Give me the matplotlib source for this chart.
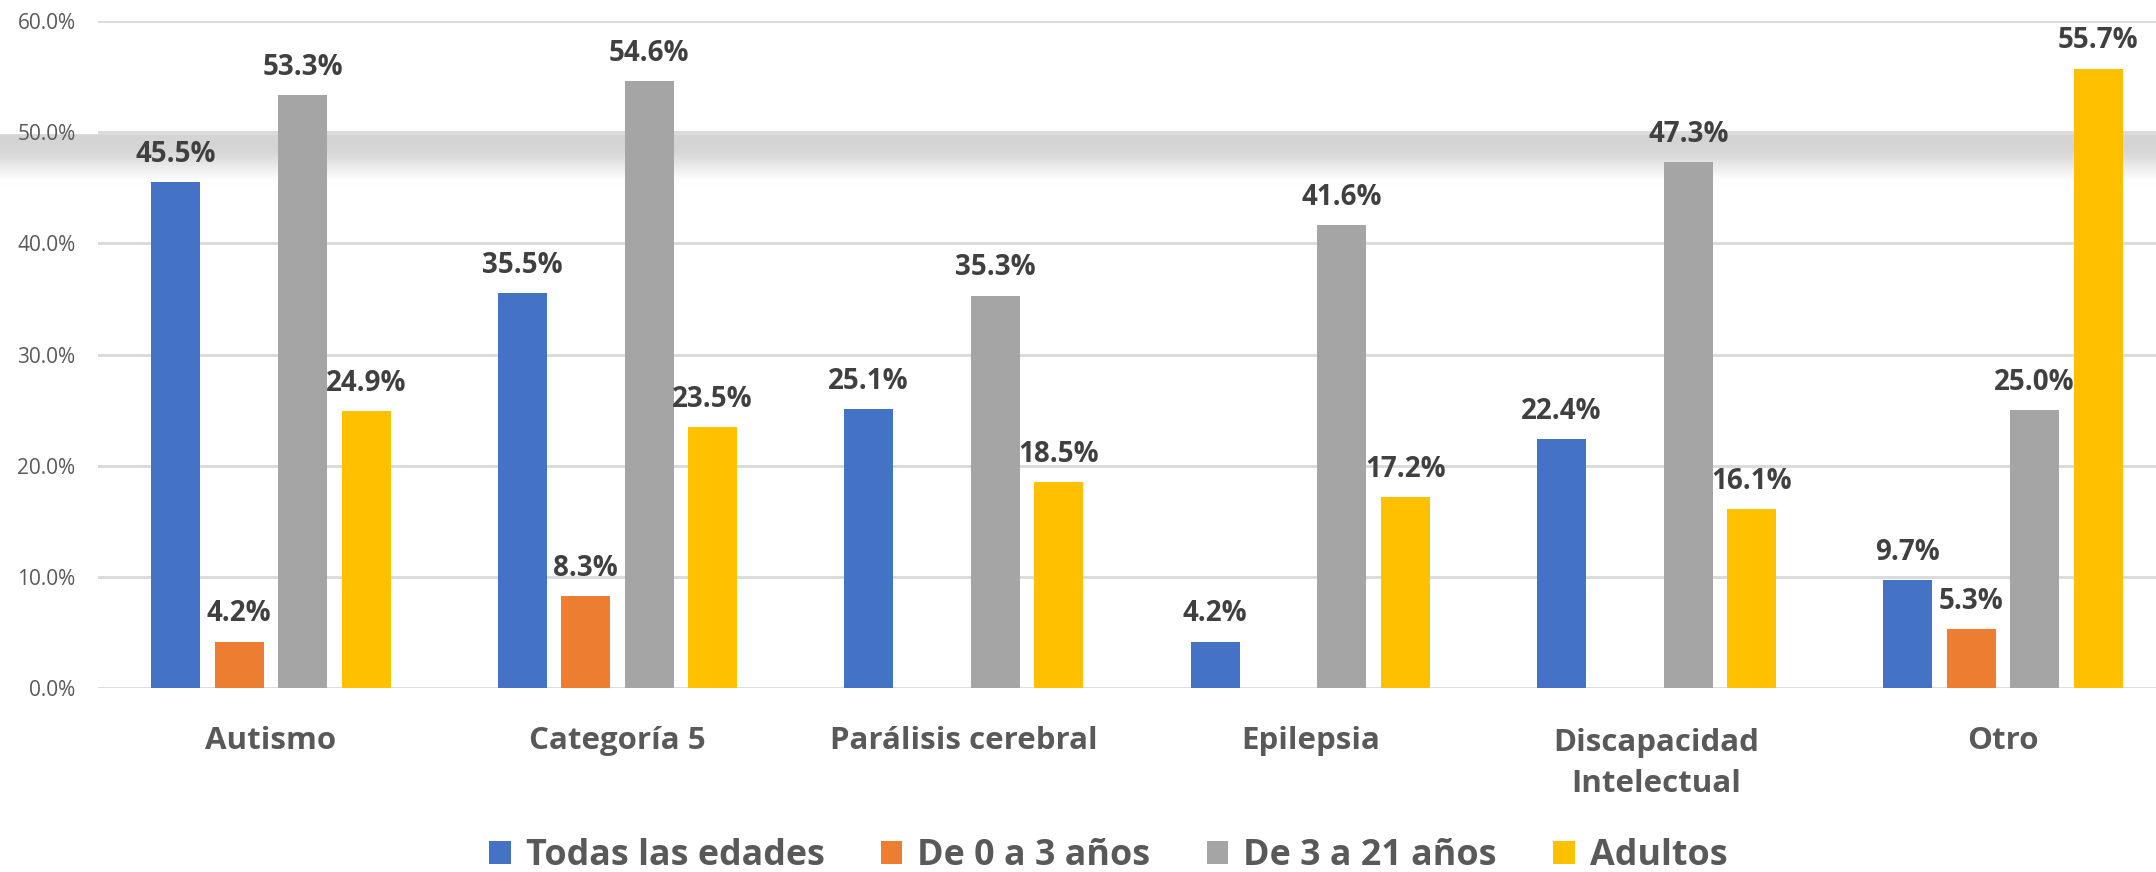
import numpy as np
import matplotlib
matplotlib.use("Agg")
import matplotlib.pyplot as plt
from matplotlib.patches import Patch
from matplotlib import transforms

categories = ["Autismo", "Categoría 5", "Parálisis cerebral", "Epilepsia",
              "Discapacidad\nIntelectual", "Otro"]
series_names = ["Todas las edades", "De 0 a 3 años", "De 3 a 21 años", "Adultos"]
todas = [45.5, 35.5, 25.1, 4.2, 22.4, 9.7]
de0a3 = [4.2, 8.3, np.nan, np.nan, np.nan, 5.3]
de3a21 = [53.3, 54.6, 35.3, 41.6, 47.3, 25.0]
adultos = [24.9, 23.5, 18.5, 17.2, 16.1, 55.7]
colors = ["#4472C4", "#ED7D31", "#A5A5A5", "#FFC000"]
yticks = [0, 10, 20, 30, 40, 50, 60]

plt.rcParams["font.family"] = ["Open Sans", "DejaVu Sans"]

W, H = 2156, 872
fig = plt.figure(figsize=(W / 100, H / 100), dpi=100)
fig.patch.set_facecolor("white")

# background shadow band
bg = fig.add_axes([0, 0, 1, 1], zorder=-5)
bg.set_xlim(0, W)
bg.set_ylim(H, 0)
bg.axis("off")
ys = np.arange(0, H)
vals = np.ones(H)
top, flat, end = 135, 146, 186
for i, yv in enumerate(ys):
    if top <= yv < flat:
        vals[i] = 0.835
    elif flat <= yv < end:
        t = (yv - flat) / (end - flat)
        s = t * t * (3 - 2 * t)
        vals[i] = 0.835 + (1 - 0.835) * s
img = np.repeat(vals[:, None], 2, axis=1)
bg.imshow(np.dstack([img, img, img]), extent=[0, W, H, 0], aspect="auto",
          interpolation="bilinear")

left = 97.8 / W
bottom = 1 - 688.3 / H
height = (688.3 - 20.7) / H
width = 2078.4 / W
ax = fig.add_axes([left, bottom, width, height], zorder=1)
ax.set_facecolor("none")

series = [todas, de0a3, de3a21, adultos]
x = np.arange(len(categories))
bw = 0.1415
step = 0.183
for k, (vals_s, col) in enumerate(zip(series, colors)):
    pos = x + (k - 1.5) * step
    v = np.array(vals_s, dtype=float)
    ax.bar(pos, v, width=bw, color=col, zorder=3)
    for p, val in zip(pos, v):
        if np.isnan(val):
            continue
        ax.annotate(f"{val:.1f}%", (p, val), xytext=(0, 14.5),
                    textcoords="offset points", ha="center", va="baseline",
                    fontsize=20, fontweight="bold", color="#404040", zorder=4)

ax.set_xlim(-0.5, len(categories) - 0.5)
ax.set_ylim(0, 60)
ax.set_yticks(yticks)
ax.set_yticklabels([f"{t:.1f}%" for t in yticks], fontsize=15, color="#595959")
ax.tick_params(axis="y", length=0, pad=16)
ax.set_xticks([])
ax.grid(axis="y", color="#D9D9D9", linewidth=2, zorder=0)
for s in ax.spines.values():
    s.set_visible(False)

base = transforms.blended_transform_factory(ax.transData, ax.transAxes)
for xi, cat in zip(x, categories):
    nlines = cat.count("\n") + 1
    off_px = 61 + 43 * (nlines - 1)
    tr = transforms.offset_copy(base, fig=fig, x=0, y=-off_px * 0.72, units="points")
    ax.text(xi, 0, cat, transform=tr, ha="center", va="baseline",
            fontsize=22.5, fontweight="bold", color="#595959", linespacing=1.5,
            multialignment="center")

handles = [Patch(facecolor=c, edgecolor="none") for c in colors]
leg = fig.legend(handles, series_names, loc="center", bbox_to_anchor=(0.514, 0.018),
                 ncol=4, frameon=False, prop={"size": 25.8, "weight": "bold"},
                 handlelength=0.6, handleheight=0.6, handletextpad=0.42,
                 columnspacing=1.57, borderpad=0, borderaxespad=0)
for t in leg.get_texts():
    t.set_color("#595959")

fig.savefig("out.png", dpi=100, facecolor="white")
